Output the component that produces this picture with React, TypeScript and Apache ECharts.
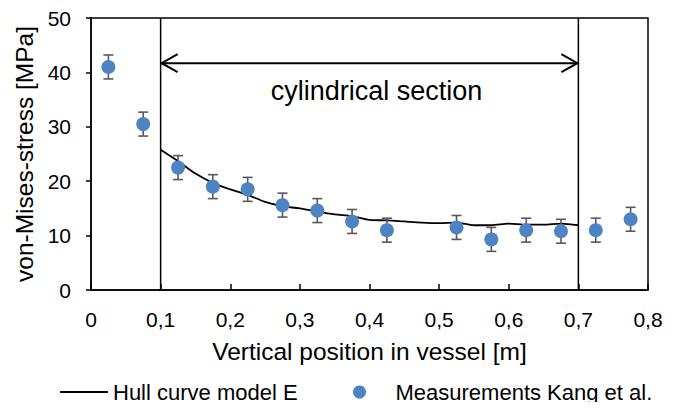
import React, { useEffect, useRef } from "react";
import * as echarts from "echarts";

// Measurements (Kang et al.)
const measX = [0.025, 0.075, 0.125, 0.175, 0.225, 0.275, 0.325, 0.375, 0.425, 0.525, 0.575, 0.625, 0.675, 0.725, 0.775];
const measY = [41.0, 30.5, 22.5, 19.0, 18.5, 15.6, 14.6, 12.6, 11.0, 11.5, 9.3, 11.0, 10.8, 11.0, 13.0];
const measErr = [2.2, 2.2, 2.2, 2.2, 2.2, 2.2, 2.2, 2.2, 2.2, 2.2, 2.2, 2.2, 2.2, 2.2, 2.2];

// Hull curve model E
const hullX = [0.1, 0.125, 0.15, 0.175, 0.2, 0.225, 0.25, 0.275, 0.3, 0.325, 0.35, 0.375, 0.4, 0.425, 0.45, 0.475, 0.5, 0.525, 0.55, 0.575, 0.6, 0.625, 0.65, 0.675, 0.7];
const hullY = [25.8, 23.7, 21.4, 19.7, 18.5, 17.5, 16.2, 15.4, 15.0, 14.4, 13.9, 13.6, 12.9, 12.8, 12.6, 12.4, 12.3, 12.4, 11.9, 11.9, 12.2, 12.0, 12.0, 12.2, 11.9];

// Cylindrical section annotation
const sectionStart = 0.1;
const sectionEnd = 0.7;
const arrowY = 41.7;
const sectionLabel = "cylindrical section";
const sectionLabelPos = [0.41, 36.5];

const FONT = "'Liberation Sans', Arial, sans-serif";

export default function App() {
  const ref = useRef<HTMLDivElement>(null);
  useEffect(() => {
    if (!ref.current) return;
    const chart = echarts.init(ref.current, null, { renderer: "svg" });
    const hullData = hullX.map((x, i) => [x, hullY[i]]);
    const measData = measX.map((x, i) => [x, measY[i]]);
    const errData = measX.map((x, i) => [x, measY[i], measErr[i]]);

    chart.setOption({
      animation: false,
      backgroundColor: "#fff",
      textStyle: { fontFamily: FONT },
      grid: {
        left: 91, right: 30, top: 18, bottom: 120,
        show: true, borderColor: "#000", borderWidth: 1.5, backgroundColor: "transparent",
      },
      legend: [
        {
          data: [{ name: "Hull curve model E", icon: "rect" }],
          left: 60, top: 381, padding: 0,
          itemWidth: 48, itemHeight: 2, itemGap: 0,
          itemStyle: { color: "#000", borderWidth: 0 },
          textStyle: { fontFamily: FONT, fontSize: 22, color: "#000" },
        },
        {
          data: [{ name: "Measurements Kang et al.", icon: "circle" }],
          left: 353, top: 381, padding: 0,
          itemWidth: 62, itemHeight: 13,
          textStyle: { fontFamily: FONT, fontSize: 22, color: "#000" },
        },
      ],
      xAxis: {
        type: "value", min: 0, max: 0.8, interval: 0.1,
        name: "Vertical position in vessel [m]",
        nameLocation: "middle", nameGap: 49,
        nameTextStyle: { fontFamily: FONT, fontSize: 24.5, color: "#000" },
        axisLine: { show: true, lineStyle: { color: "#000", width: 1.5 } },
        axisTick: { show: true, inside: true, length: 6, lineStyle: { color: "#000", width: 1.5 } },
        splitLine: { show: false },
        axisLabel: {
          fontFamily: FONT, fontSize: 21, color: "#000", margin: 19,
          formatter: (v: number) => (v === 0 ? "0" : v.toFixed(1).replace(".", ",")),
        },
      },
      yAxis: {
        type: "value", min: 0, max: 50, interval: 10,
        name: "von-Mises-stress [MPa]",
        nameLocation: "middle", nameGap: 47,
        nameTextStyle: { fontFamily: FONT, fontSize: 24.5, color: "#000" },
        axisLine: { show: true, lineStyle: { color: "#000", width: 1.5 } },
        axisTick: { show: true, inside: false, length: 5, lineStyle: { color: "#000", width: 1.5 } },
        splitLine: { show: false },
        axisLabel: { fontFamily: FONT, fontSize: 21, color: "#000", margin: 20 },
      },
      series: [
        {
          name: "annotation",
          type: "custom",
          silent: true,
          data: [[sectionStart, sectionEnd, arrowY]],
          renderItem: (params: any, api: any) => {
            const x0 = api.value(0), x1 = api.value(1), y = api.value(2);
            const pTop0 = api.coord([x0, 50]);
            const pBot0 = api.coord([x0, 0]);
            const pTop1 = api.coord([x1, 50]);
            const pBot1 = api.coord([x1, 0]);
            const a0 = api.coord([x0, y]);
            const a1 = api.coord([x1, y]);
            const st = { stroke: "#000", lineWidth: 1.5, fill: "none" };
            const lp = api.coord(sectionLabelPos);
            return {
              type: "group",
              children: [
                { type: "line", shape: { x1: pTop0[0], y1: pTop0[1], x2: pBot0[0], y2: pBot0[1] }, style: st },
                { type: "line", shape: { x1: pTop1[0], y1: pTop1[1], x2: pBot1[0], y2: pBot1[1] }, style: st },
                { type: "line", shape: { x1: a0[0] + 1, y1: a0[1], x2: a1[0] - 1, y2: a1[1] }, style: { stroke: "#000", lineWidth: 2 } },
                { type: "polyline", shape: { points: [[a0[0] + 17, a0[1] - 9], [a0[0] + 1, a0[1]], [a0[0] + 17, a0[1] + 9]] }, style: { stroke: "#000", lineWidth: 2, fill: "none" } },
                { type: "polyline", shape: { points: [[a1[0] - 17, a1[1] - 9], [a1[0] - 1, a1[1]], [a1[0] - 17, a1[1] + 9]] }, style: { stroke: "#000", lineWidth: 2, fill: "none" } },
                {
                  type: "text",
                  style: {
                    text: sectionLabel, x: lp[0], y: lp[1],
                    align: "center", verticalAlign: "middle",
                    font: `27px ${FONT}`, fill: "#000",
                  },
                },
              ],
            };
          },
          z: 1,
        },
        {
          name: "Hull curve model E",
          type: "line",
          data: hullData,
          symbol: "none",
          smooth: 0.3,
          lineStyle: { color: "#000", width: 1.8 },
          itemStyle: { color: "#000" },
          z: 3,
        },
        {
          name: "errorbars",
          type: "custom",
          silent: true,
          data: errData,
          renderItem: (params: any, api: any) => {
            const x = api.value(0), y = api.value(1), e = api.value(2);
            const hi = api.coord([x, y + e]);
            const lo = api.coord([x, y - e]);
            const w = 5;
            const st = { stroke: "#595959", lineWidth: 1.6 };
            return {
              type: "group",
              children: [
                { type: "line", shape: { x1: hi[0], y1: hi[1], x2: lo[0], y2: lo[1] }, style: st },
                { type: "line", shape: { x1: hi[0] - w, y1: hi[1], x2: hi[0] + w, y2: hi[1] }, style: st },
                { type: "line", shape: { x1: lo[0] - w, y1: lo[1], x2: lo[0] + w, y2: lo[1] }, style: st },
              ],
            };
          },
          z: 4,
        },
        {
          name: "Measurements Kang et al.",
          type: "scatter",
          data: measData,
          symbol: "circle",
          symbolSize: 14,
          itemStyle: { color: "#4F84C4", opacity: 1 },
          z: 5,
        },
      ],
    });
    return () => chart.dispose();
  }, []);
  return <div ref={ref} style={{ width: 678, height: 410, margin: -8 }} />;
}
